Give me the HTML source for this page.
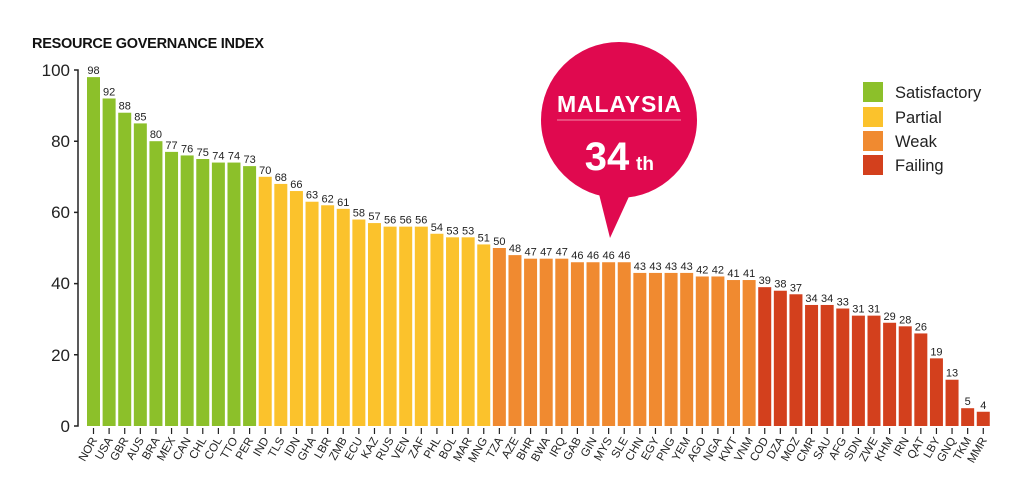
<!DOCTYPE html>
<html><head><meta charset="utf-8"><style>
body{margin:0;background:#fff;}
svg{display:block;font-family:"Liberation Sans",sans-serif;}
</style></head><body>
<svg width="1024" height="503" viewBox="0 0 1024 503" xmlns="http://www.w3.org/2000/svg" id="c">
<text x="32" y="48" font-size="14.5" font-weight="bold" fill="#111" textLength="232">RESOURCE GOVERNANCE INDEX</text>
<g stroke="#222" stroke-width="1.5" fill="none">
<path d="M74,70 H78 V426 H74"/>
<path d="M74,141.2 H78 M74,212.4 H78 M74,283.6 H78 M74,354.8 H78"/>
</g>
<g font-size="17" fill="#222" text-anchor="end">
<text x="70" y="76">100</text><text x="70" y="147">80</text><text x="70" y="218">60</text><text x="70" y="289">40</text><text x="70" y="361">20</text><text x="70" y="432">0</text>
</g>
<g id="bars"></g>
<circle cx="619" cy="120" r="78" fill="#e0094f"/>
<path d="M598,190 L610,238 L632,190 Z" fill="#e0094f"/>
<text x="619" y="112" font-size="23" font-weight="bold" fill="#fff" text-anchor="middle" textLength="124">MALAYSIA</text>
<line x1="557" y1="120" x2="681" y2="120" stroke="#f48aa8" stroke-width="1"/>
<text x="607" y="170" font-size="40" font-weight="bold" fill="#fff" text-anchor="middle">34</text>
<text x="645" y="170" font-size="19" font-weight="bold" fill="#fff" text-anchor="middle">th</text>
<rect x="863" y="82" width="20" height="20" fill="#8cc02a"/>
<rect x="863" y="107" width="20" height="20" fill="#fbc22c"/>
<rect x="863" y="131" width="20" height="20" fill="#f08a30"/>
<rect x="863" y="155" width="20" height="20" fill="#d3401d"/>
<g font-size="16.5" fill="#222">
<text x="895" y="98">Satisfactory</text><text x="895" y="123">Partial</text><text x="895" y="147">Weak</text><text x="895" y="171">Failing</text>
</g>
</svg>
<script>
var d=[["NOR",98],["USA",92],["GBR",88],["AUS",85],["BRA",80],["MEX",77],["CAN",76],["CHL",75],["COL",74],["TTO",74],["PER",73],["IND",70],["TLS",68],["IDN",66],["GHA",63],["LBR",62],["ZMB",61],["ECU",58],["KAZ",57],["RUS",56],["VEN",56],["ZAF",56],["PHL",54],["BOL",53],["MAR",53],["MNG",51],["TZA",50],["AZE",48],["BHR",47],["BWA",47],["IRQ",47],["GAB",46],["GIN",46],["MYS",46],["SLE",46],["CHN",43],["EGY",43],["PNG",43],["YEM",43],["AGO",42],["NGA",42],["KWT",41],["VNM",41],["COD",39],["DZA",38],["MOZ",37],["CMR",34],["SAU",34],["AFG",33],["SDN",31],["ZWE",31],["KHM",29],["IRN",28],["QAT",26],["LBY",19],["GNQ",13],["TKM",5],["MMR",4]];
var s="";
for(var i=0;i<d.length;i++){
var x=87+i*15.61,cx=x+6.5,v=d[i][1],h=v*3.56,y=426-h;
var c=i<11?"#8cc02a":i<26?"#fbc22c":i<43?"#f08a30":"#d3401d";
s+='<rect x="'+x.toFixed(2)+'" y="'+y.toFixed(2)+'" width="13" height="'+h.toFixed(2)+'" fill="'+c+'"/>';
s+='<text x="'+cx.toFixed(2)+'" y="'+(y-3).toFixed(2)+'" font-size="11" fill="#222" text-anchor="middle">'+v+'</text>';
s+='<line x1="'+cx.toFixed(2)+'" y1="428" x2="'+cx.toFixed(2)+'" y2="434" stroke="#222" stroke-width="1.2"/>';
s+='<text transform="translate('+(cx+4).toFixed(2)+',440) rotate(-60)" font-size="11.5" fill="#222" text-anchor="end">'+d[i][0]+'</text>';
}
document.getElementById("bars").innerHTML=s;
</script>
</body></html>
